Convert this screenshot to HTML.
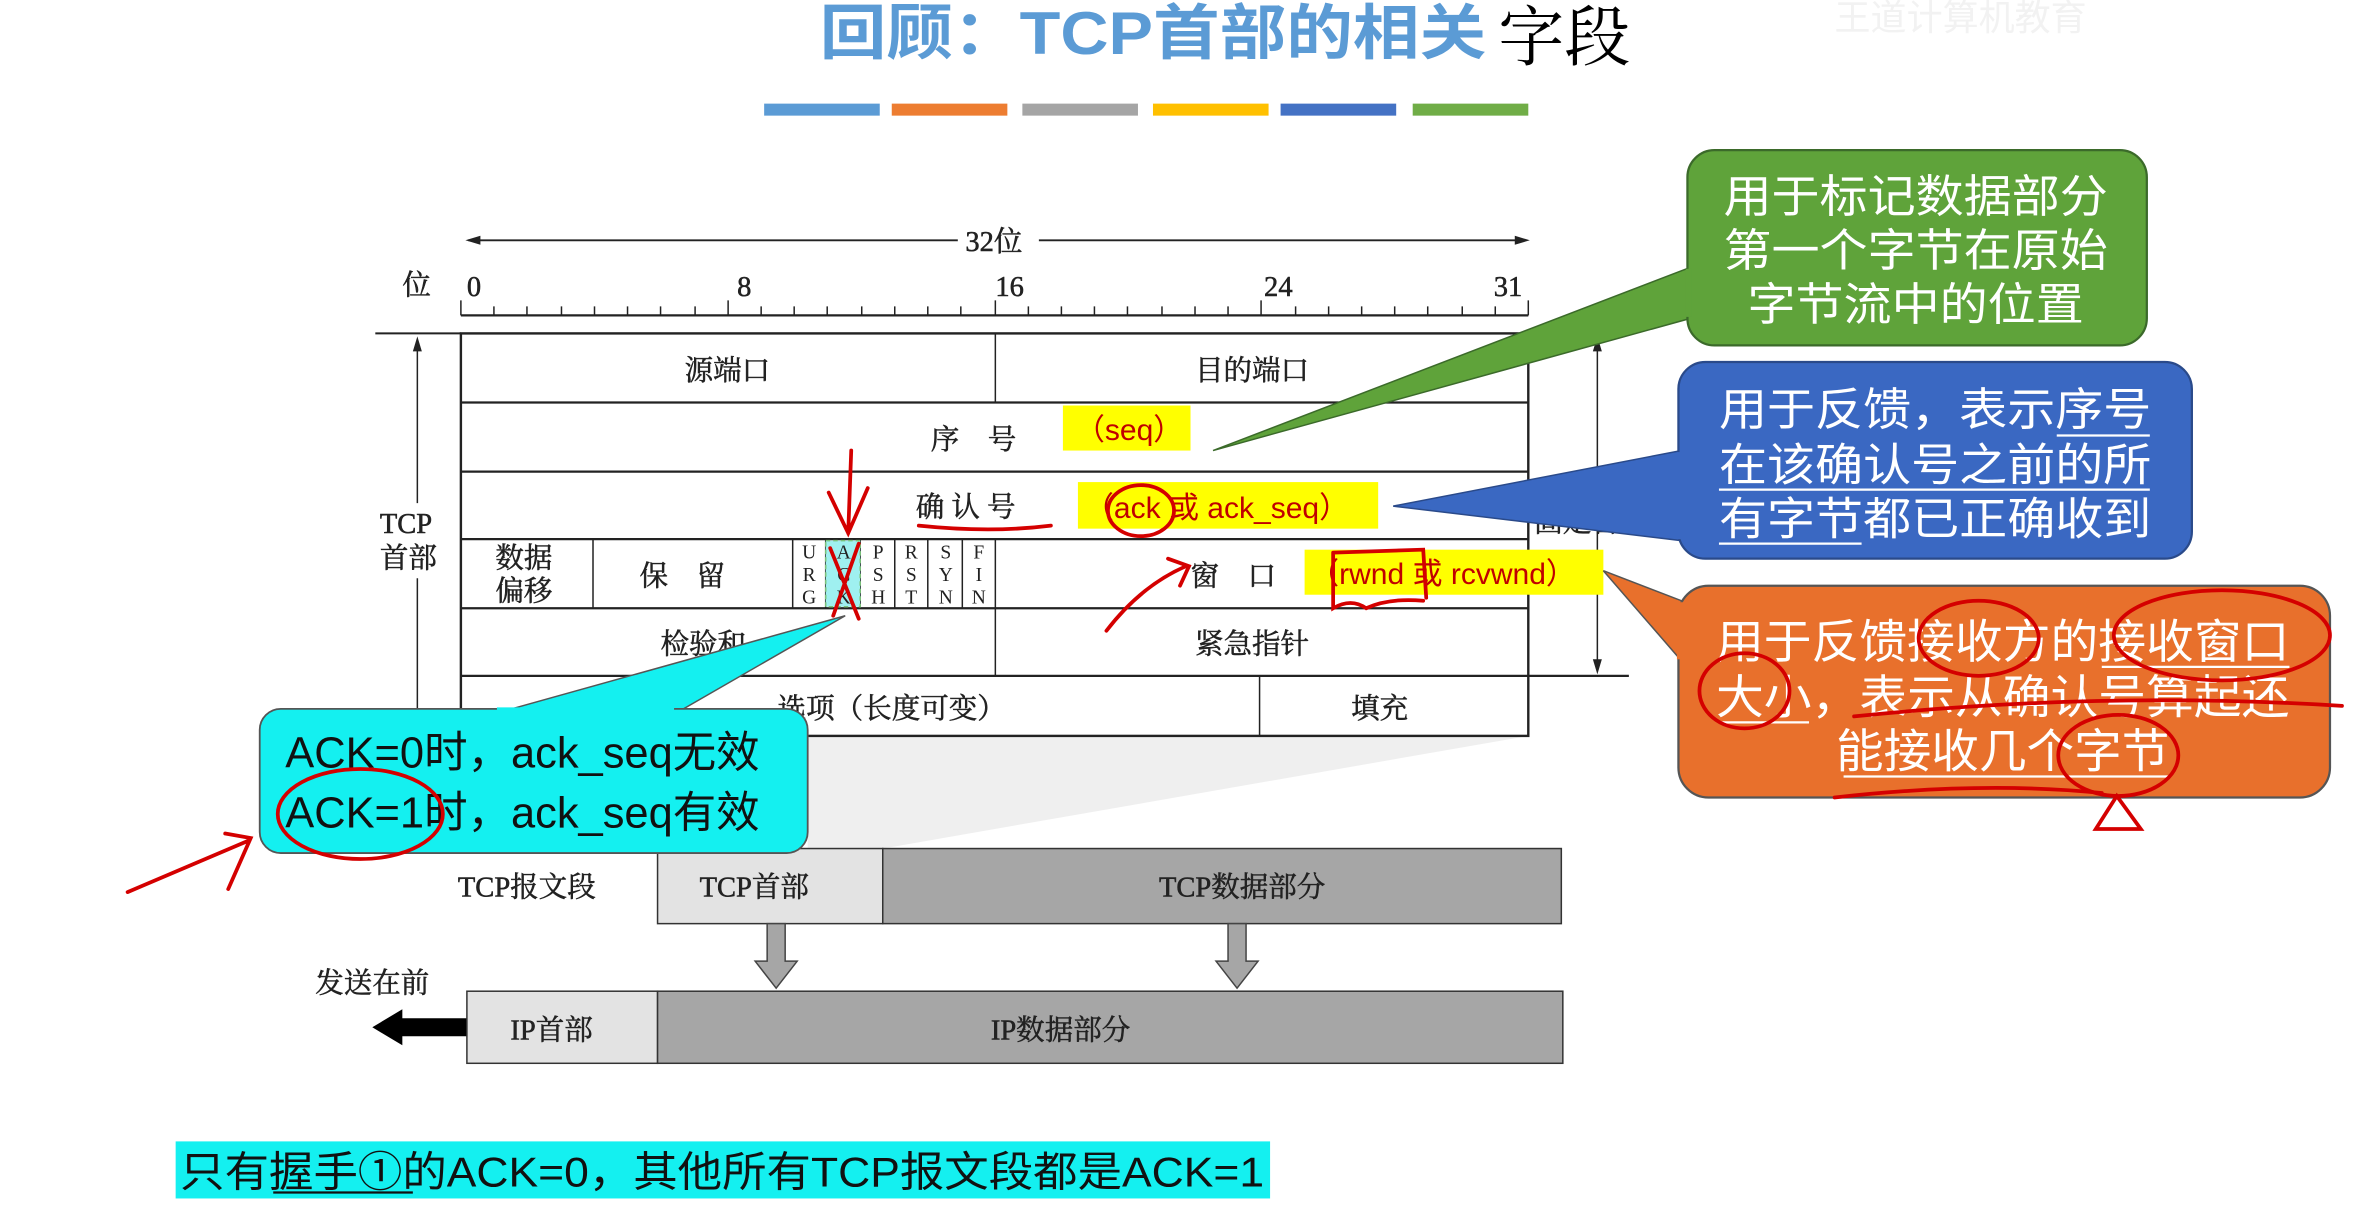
<!DOCTYPE html>
<html><head><meta charset="utf-8"><style>
html,body{margin:0;padding:0;background:#fff;overflow:hidden}
svg{display:block}
.s{font-family:"Liberation Serif","Noto Serif CJK SC",serif;font-size:19px;fill:#222;stroke:#222;stroke-width:0.35}
.a{font-family:"Liberation Sans","Noto Sans CJK SC",sans-serif}
.f{font-family:"Liberation Serif",serif;font-size:13px;fill:#222}
</style></head><body>
<svg width="2354" height="1227" viewBox="0 0 1568 817" preserveAspectRatio="none" xmlns="http://www.w3.org/2000/svg">
<rect width="1568" height="817" fill="#fff"/>
<!-- title -->
<text x="546" y="36" class="a" font-size="40" font-weight="bold" fill="#5b9bd5" textLength="444" lengthAdjust="spacingAndGlyphs">回顾：TCP首部的相关</text>
<text x="998" y="40" font-family="Noto Serif CJK SC,serif" font-size="44" fill="#000">字段</text>
<text x="1222" y="20" class="a" font-size="24" fill="#f2f2f2">王道计算机教育</text>
<rect x="509" y="69" width="77" height="8" fill="#5b9bd5"/>
<rect x="594" y="69" width="77" height="8" fill="#ed7d31"/>
<rect x="681" y="69" width="77" height="8" fill="#a5a5a5"/>
<rect x="768" y="69" width="77" height="8" fill="#ffc000"/>
<rect x="853" y="69" width="77" height="8" fill="#4472c4"/>
<rect x="941" y="69" width="77" height="8" fill="#70ad47"/>

<!-- perspective shade -->
<polygon points="538,490 1018,490 588,565 538,565" fill="#efefef"/>

<!-- 32 bit arrow -->
<line x1="312" y1="160" x2="638" y2="160" stroke="#222" stroke-width="1.2"/>
<line x1="692" y1="160" x2="1016" y2="160" stroke="#222" stroke-width="1.2"/>
<polygon points="310,160 320,157 320,163" fill="#222"/>
<polygon points="1019,160 1009,157 1009,163" fill="#222"/>
<text x="643" y="167" class="s">32位</text>
<text x="268" y="196" class="s">位</text>
<text x="311" y="197" class="s">0</text>
<text x="491" y="197" class="s">8</text>
<text x="663" y="197" class="s">16</text>
<text x="842" y="197" class="s">24</text>
<text x="995" y="197" class="s">31</text>
<!-- ruler -->
<line x1="307" y1="210" x2="1018" y2="210" stroke="#222" stroke-width="1.5"/>
<g stroke="#222" stroke-width="1">
<line x1="307" y1="200" x2="307" y2="210"/><line x1="329" y1="204" x2="329" y2="210"/><line x1="351" y1="204" x2="351" y2="210"/><line x1="374" y1="204" x2="374" y2="210"/><line x1="396" y1="204" x2="396" y2="210"/><line x1="418" y1="204" x2="418" y2="210"/><line x1="440" y1="204" x2="440" y2="210"/><line x1="463" y1="204" x2="463" y2="210"/><line x1="485" y1="200" x2="485" y2="210"/><line x1="507" y1="204" x2="507" y2="210"/><line x1="529" y1="204" x2="529" y2="210"/><line x1="551" y1="204" x2="551" y2="210"/><line x1="574" y1="204" x2="574" y2="210"/><line x1="596" y1="204" x2="596" y2="210"/><line x1="618" y1="204" x2="618" y2="210"/><line x1="640" y1="204" x2="640" y2="210"/><line x1="663" y1="200" x2="663" y2="210"/><line x1="685" y1="204" x2="685" y2="210"/><line x1="707" y1="204" x2="707" y2="210"/><line x1="729" y1="204" x2="729" y2="210"/><line x1="751" y1="204" x2="751" y2="210"/><line x1="774" y1="204" x2="774" y2="210"/><line x1="796" y1="204" x2="796" y2="210"/><line x1="818" y1="204" x2="818" y2="210"/><line x1="840" y1="200" x2="840" y2="210"/><line x1="863" y1="204" x2="863" y2="210"/><line x1="885" y1="204" x2="885" y2="210"/><line x1="907" y1="204" x2="907" y2="210"/><line x1="929" y1="204" x2="929" y2="210"/><line x1="951" y1="204" x2="951" y2="210"/><line x1="974" y1="204" x2="974" y2="210"/><line x1="996" y1="204" x2="996" y2="210"/><line x1="1018" y1="200" x2="1018" y2="210"/>
</g>
<!-- table -->
<g stroke="#222" fill="none">
<rect x="307" y="222" width="711" height="268" stroke-width="1.6"/>
<line x1="250" y1="222" x2="307" y2="222" stroke-width="1.3"/>
<line x1="307" y1="268" x2="1018" y2="268" stroke-width="1.5"/>
<line x1="307" y1="314" x2="1018" y2="314" stroke-width="1.5"/>
<line x1="307" y1="359" x2="1018" y2="359" stroke-width="1.5"/>
<line x1="307" y1="405" x2="1018" y2="405" stroke-width="1.5"/>
<line x1="307" y1="450" x2="1085" y2="450" stroke-width="1.5"/>
<line x1="663" y1="222" x2="663" y2="268"/>
<line x1="663" y1="405" x2="663" y2="450"/>
<line x1="395" y1="359" x2="395" y2="405"/>
<line x1="528" y1="359" x2="528" y2="405"/>
<line x1="550" y1="359" x2="550" y2="405"/>
<line x1="573" y1="359" x2="573" y2="405"/>
<line x1="596" y1="359" x2="596" y2="405"/>
<line x1="618" y1="359" x2="618" y2="405"/>
<line x1="641" y1="359" x2="641" y2="405"/>
<line x1="663" y1="359" x2="663" y2="405"/>
<line x1="839" y1="450" x2="839" y2="490"/>
<line x1="278" y1="232" x2="278" y2="335"/>
<line x1="278" y1="385" x2="278" y2="490"/>
<line x1="1064" y1="232" x2="1064" y2="440"/>
<line x1="1018" y1="222" x2="1085" y2="222"/>
</g>
<polygon points="278,224 275,234 281,234" fill="#222"/>
<polygon points="1064,224 1061,234 1067,234" fill="#222"/>
<polygon points="1064,449 1061,439 1067,439" fill="#222"/>
<rect x="550" y="360" width="23" height="44" fill="#9ff0f0" stroke="#7ac27a" stroke-dasharray="3,2"/>
<text x="253" y="355" class="s">TCP</text>
<text x="253" y="378" class="s">首部</text>
<text x="1035" y="330" class="s">20B的</text>
<text x="1022" y="354" class="s">固定首部</text>
<text x="456" y="253" class="s">源端口</text>
<text x="796" y="253" class="s">目的端口</text>
<text x="620" y="299" class="s">序　号</text>
<text x="610" y="344" class="s">确 认 号</text>
<text x="330" y="378" class="s">数据</text>
<text x="330" y="400" class="s">偏移</text>
<text x="426" y="390" class="s">保　留</text>
<text x="793" y="390" class="s">窗　口</text>
<text x="440" y="435" class="s">检验和</text>
<text x="796" y="435" class="s">紧急指针</text>
<text x="518" y="478" class="s">选项（长度可变）</text>
<text x="900" y="478" class="s">填充</text>
<g class="f" text-anchor="middle">
<text x="539" y="372">U</text><text x="539" y="387">R</text><text x="539" y="402">G</text>
<text x="562" y="372">A</text><text x="562" y="387">C</text><text x="562" y="402">K</text>
<text x="585" y="372">P</text><text x="585" y="387">S</text><text x="585" y="402">H</text>
<text x="607" y="372">R</text><text x="607" y="387">S</text><text x="607" y="402">T</text>
<text x="630" y="372">S</text><text x="630" y="387">Y</text><text x="630" y="402">N</text>
<text x="652" y="372">F</text><text x="652" y="387">I</text><text x="652" y="402">N</text>
</g>
<!-- yellow highlights -->
<rect x="708" y="270" width="85" height="30" fill="#ffff00"/>
<text x="716" y="293" class="a" font-size="20" fill="#c00000">（seq）</text>
<rect x="718" y="321" width="200" height="31" fill="#ffff00"/>
<text x="722" y="345" class="a" font-size="20" fill="#c00000">（ack 或 ack_seq）</text>
<rect x="869" y="366" width="199" height="30" fill="#ffff00"/>
<text x="872" y="389" class="a" font-size="20" fill="#c00000">（rwnd 或 rcvwnd）</text>

<!-- TCP segment -->
<text x="305" y="597" class="s">TCP报文段</text>
<rect x="438" y="565" width="150" height="50" fill="#e3e3e3" stroke="#333"/>
<rect x="588" y="565" width="452" height="50" fill="#a6a6a6" stroke="#333"/>
<text x="466" y="597" class="s">TCP首部</text>
<text x="772" y="597" class="s">TCP数据部分</text>
<polygon points="511,615 523,615 523,640 531,640 517,658 503,640 511,640" fill="#a6a6a6" stroke="#444"/>
<polygon points="818,615 830,615 830,640 838,640 824,658 810,640 818,640" fill="#a6a6a6" stroke="#444"/>
<text x="210" y="661" class="s">发送在前</text>
<polygon points="248,684 268,672 268,678 311,678 311,690 268,690 268,696" fill="#000"/>
<rect x="311" y="660" width="127" height="48" fill="#e3e3e3" stroke="#333"/>
<rect x="438" y="660" width="603" height="48" fill="#a6a6a6" stroke="#333"/>
<text x="340" y="692" class="s">IP首部</text>
<text x="660" y="692" class="s">IP数据部分</text>

<!-- callouts -->
<polygon points="1126,178 1126,212 808,300" fill="#5fa33a" stroke="#3b6a2a"/>
<rect x="1124" y="100" width="306" height="130" rx="18" fill="#5fa33a" stroke="#3b6a2a" stroke-width="1.5"/>
<rect x="1123" y="179" width="4" height="32" fill="#5fa33a"/>
<g class="a" font-size="30" fill="#fff">
<text x="1148" y="141" textLength="256" lengthAdjust="spacingAndGlyphs">用于标记数据部分</text>
<text x="1148" y="177" textLength="256" lengthAdjust="spacingAndGlyphs">第一个字节在原始</text>
<text x="1164" y="213" textLength="224" lengthAdjust="spacingAndGlyphs">字节流中的位置</text>
</g>
<polygon points="1120,300 1120,360 928,337" fill="#3a68c2" stroke="#2a4a8a"/>
<rect x="1118" y="241" width="342" height="131" rx="18" fill="#3a68c2" stroke="#2a4a8a" stroke-width="1.5"/>
<rect x="1117" y="301" width="4" height="58" fill="#3a68c2"/>
<g class="a" font-size="30" fill="#fff">
<text x="1145" y="283" textLength="288" lengthAdjust="spacingAndGlyphs">用于反馈，表示序号</text>
<text x="1145" y="320" textLength="288" lengthAdjust="spacingAndGlyphs">在该确认号之前的所</text>
<text x="1145" y="356" textLength="288" lengthAdjust="spacingAndGlyphs">有字节都已正确收到</text>
</g>
<g stroke="#fff" stroke-width="1.5">
<line x1="1370" y1="290" x2="1432" y2="290"/>
<line x1="1145" y1="326" x2="1432" y2="326"/>
<line x1="1145" y1="362" x2="1240" y2="362"/>
</g>
<polygon points="1120,400 1120,440 1068,380" fill="#e8702c" stroke="#555"/>
<rect x="1118" y="390" width="434" height="141" rx="20" fill="#e8702c" stroke="#555" stroke-width="1.5"/>
<rect x="1117" y="401" width="4" height="38" fill="#e8702c"/>
<g class="a" font-size="31" fill="#fff">
<text x="1143" y="438" textLength="382" lengthAdjust="spacingAndGlyphs">用于反馈接收方的接收窗口</text>
<text x="1143" y="475" textLength="382" lengthAdjust="spacingAndGlyphs">大小，表示从确认号算起还</text>
<text x="1223" y="511" textLength="222" lengthAdjust="spacingAndGlyphs">能接收几个字节</text>
</g>
<g stroke="#fff" stroke-width="1.5">
<line x1="1400" y1="444" x2="1525" y2="444"/>
<line x1="1145" y1="481" x2="1205" y2="481"/>
<line x1="1228" y1="517" x2="1445" y2="517"/>
</g>
<polygon points="330,475 450,475 563,410" fill="#14f0f0" stroke="#555"/>
<rect x="173" y="472" width="365" height="96" rx="14" fill="#14f0f0" stroke="#555" stroke-width="1.2"/>
<rect x="331" y="471" width="118" height="4" fill="#14f0f0"/>
<g class="a" font-size="29" fill="#111">
<text x="190" y="511" textLength="316" lengthAdjust="spacingAndGlyphs">ACK=0时，ack_seq无效</text>
<text x="190" y="551" textLength="316" lengthAdjust="spacingAndGlyphs">ACK=1时，ack_seq有效</text>
</g>

<!-- bottom -->
<rect x="117" y="760" width="729" height="38" fill="#14f0f0"/>
<text x="120" y="790" class="a" font-size="28" fill="#111" textLength="722" lengthAdjust="spacingAndGlyphs">只有握手①的ACK=0，其他所有TCP报文段都是ACK=1</text>
<line x1="182" y1="794" x2="275" y2="794" stroke="#111" stroke-width="1.5"/>

<!-- red annotations -->
<g stroke="#d40000" stroke-width="2.5" fill="none" stroke-linecap="round">
<path d="M567,300 L565,355 M552,328 L565,355 L578,325"/>
<path d="M553,365 L572,412 M572,362 L555,410"/>
<path d="M612,350 Q660,355 700,350"/>
<ellipse cx="760" cy="340" rx="22" ry="17"/>
<path d="M888,368 L948,366 L950,398 M888,368 L888,405 Q900,398 910,405 Q925,398 948,400"/>
<path d="M737,420 Q760,390 790,377 M778,372 L792,377 L786,390"/>
<ellipse cx="240" cy="542" rx="55" ry="30"/>
<path d="M85,594 Q130,575 165,560 M150,555 L167,558 L152,592"/>
<ellipse cx="1318" cy="425" rx="40" ry="25"/>
<ellipse cx="1480" cy="423" rx="72" ry="30"/>
<ellipse cx="1162" cy="460" rx="30" ry="25"/>
<path d="M1235,477 Q1400,460 1560,470"/>
<ellipse cx="1411" cy="503" rx="40" ry="27"/>
<path d="M1222,531 Q1320,520 1400,528"/>
<path d="M1410,530 L1396,552 L1426,552 Z"/>
</g>
</svg>
</body></html>
